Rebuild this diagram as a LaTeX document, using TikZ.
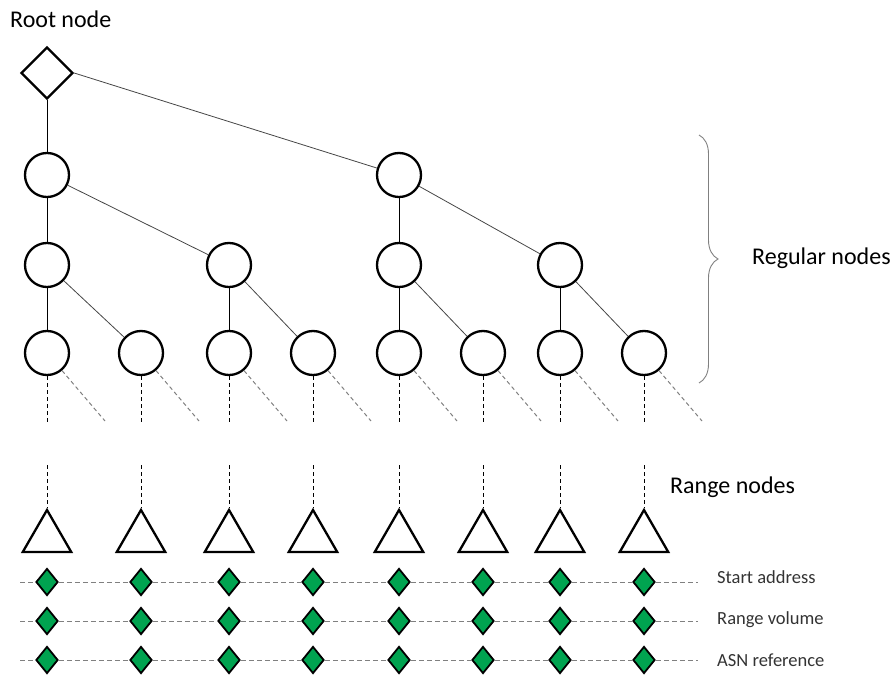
\documentclass[tikz,border=0pt]{standalone}
\usepackage{fontspec}
\setmainfont{Carlito}
\usetikzlibrary{shapes.geometric,decorations.pathreplacing}
\definecolor{dgreen}{RGB}{0,163,80}
\definecolor{edgegray}{RGB}{70,70,70}
\begin{document}
\begin{tikzpicture}[x=1pt,y=-1pt,
  rnode/.style={circle,draw,line width=2.3pt,minimum size=44pt,inner sep=0pt},
  rootbox/.style={diamond,draw,line width=2.3pt,minimum width=52pt,minimum height=52pt,inner sep=0pt},
  tri/.style={regular polygon,regular polygon sides=3,draw,line width=2.3pt,minimum size=56pt,inner sep=0pt},
  gem/.style={diamond,draw,fill=dgreen,line width=1.8pt,minimum width=22pt,minimum height=27pt,inner sep=0pt},
  vedge/.style={draw,line width=1pt,black},
  dedge/.style={draw,line width=0.8pt,edgegray},
  vdash/.style={draw,line width=1pt,black,dash pattern=on 4pt off 3pt},
  ddash/.style={draw,line width=1pt,gray,dash pattern=on 4pt off 3pt},
  rowline/.style={draw,line width=0.9pt,gray,dash pattern=on 5pt off 3pt},
  biglabel/.style={anchor=west,inner sep=0pt,font=\fontsize{24}{28}\selectfont},
  smalllabel/.style={anchor=west,inner sep=0pt,text=black!80,font=\fontsize{18.5}{22}\selectfont},
  bracestyle/.style={draw,line width=0.9pt,gray,decorate,decoration={brace,amplitude=19pt}}
]
\useasboundingbox (0,0) rectangle (895,676);

% tree nodes
\node[rootbox] (root) at (47,73) {};
\node[rnode] (a1) at (47,175) {};
\node[rnode] (a2) at (399,175) {};
\node[rnode] (b1) at (47,265) {};
\node[rnode] (b2) at (229,265) {};
\node[rnode] (b3) at (399,265) {};
\node[rnode] (b4) at (560,265) {};
\foreach \i/\x in {1/47,2/141,3/229,4/313,5/399,6/483,7/560,8/644}{
  \node[rnode] (c\i) at (\x,353) {};
}

% tree edges
\draw[vedge] (root) -- (a1);
\draw[dedge] (root.east) -- (a2);
\draw[vedge] (a1) -- (b1);
\draw[dedge] (a1) -- (b2);
\draw[vedge] (a2) -- (b3);
\draw[dedge] (a2) -- (b4);
\draw[vedge] (b1) -- (c1);
\draw[dedge] (b1) -- (c2);
\draw[vedge] (b2) -- (c3);
\draw[dedge] (b2) -- (c4);
\draw[vedge] (b3) -- (c5);
\draw[dedge] (b3) -- (c6);
\draw[vedge] (b4) -- (c7);
\draw[dedge] (b4) -- (c8);

% dashed continuations and range nodes
\foreach \i/\x in {1/47,2/141,3/229,4/313,5/399,6/483,7/560,8/644}{
  \coordinate (vd\i) at (\x,422);
  \coordinate (dd\i) at (\x+58,421);
  \coordinate (vu\i) at (\x,465);
  \draw[vdash] (c\i) -- (vd\i);
  \draw[ddash] (c\i) -- (dd\i);
  \node[tri] (t\i) at (\x,538) {};
  \draw[vdash] (vu\i) -- (t\i.corner 1);
}

% attribute rows
\foreach \r/\y in {s/582,v/621,n/660}{
  \foreach \i/\x in {1/47,2/141,3/229,4/313,5/399,6/483,7/560,8/644}{
    \node[gem] (\r\i) at (\x,\y) {};
  }
  \coordinate (\r0) at (20,\y);
  \coordinate (\r9) at (698,\y);
  \draw[rowline] (\r0) -- (\r1);
  \draw[rowline] (\r1) -- (\r2);
  \draw[rowline] (\r2) -- (\r3);
  \draw[rowline] (\r3) -- (\r4);
  \draw[rowline] (\r4) -- (\r5);
  \draw[rowline] (\r5) -- (\r6);
  \draw[rowline] (\r6) -- (\r7);
  \draw[rowline] (\r7) -- (\r8);
  \draw[rowline] (\r8) -- (\r9);
}

% brace
\coordinate (brtop) at (699,135);
\coordinate (brbot) at (699,383);
\draw[bracestyle] (brtop) -- (brbot);

% labels
\node[biglabel] (lroot) at (10,19) {Root node};
\node[biglabel] (lreg) at (752,258) {Regular nodes};
\node[biglabel] (lrange) at (670,487) {Range nodes};
\node[smalllabel] (lstart) at (717,577) {Start address};
\node[smalllabel] (lvol) at (717,620) {Range volume};
\node[smalllabel] (lasn) at (717,660) {ASN reference};
\end{tikzpicture}
\end{document}
